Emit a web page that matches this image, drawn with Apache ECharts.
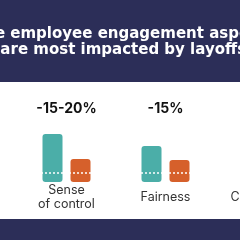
<!DOCTYPE html>
<html>
<head>
<meta charset="utf-8">
<script src="https://cdn.jsdelivr.net/npm/echarts@6/dist/echarts.min.js"></script>
<style>
  html, body { margin: 0; padding: 0; background: #fff; }
  #chart { width: 240px; height: 240px; }
</style>
</head>
<body>
<div id="chart"></div>
<script>
var categories = ['Sense\nof control', 'Fairness', 'Connection'];
var impactLabels = ['-15-20%', '-15%', '-10%'];
var before = [48, 36, 40];
var after = [23, 22, 24];
var breakAt = 9;
var titleLines = ['The employee engagement aspects', 'that are most impacted by layoffs?'];

var navy = '#2c2e58';
var myChart = echarts.init(document.getElementById('chart'));
var option = {
  backgroundColor: '#fff',
  animation: false,
  graphic: [
    { type: 'rect', shape: { x: 0, y: 0, width: 240, height: 82 }, style: { fill: navy }, z: -1 },
    { type: 'rect', shape: { x: 0, y: 219, width: 240, height: 21 }, style: { fill: navy }, z: -1 },
    { type: 'text', left: -26, top: 27, style: { text: titleLines[0], fill: '#fff', font: 'bold 15px "DejaVu Sans"' } },
    { type: 'text', left: -40, top: 43, style: { text: titleLines[1], fill: '#fff', font: 'bold 15px "DejaVu Sans"' } }
  ],
  grid: { left: 17, width: 297, top: 82, height: 100, outerBoundsMode: 'none' },
  xAxis: [
    {
      type: 'category',
      data: categories,
      axisLine: { show: false },
      axisTick: { show: false },
      axisLabel: {
        interval: 0, margin: 15, verticalAlign: 'middle', lineHeight: 14,
        color: '#333', fontSize: 12.5, fontFamily: 'Inter'
      }
    },
    {
      type: 'category',
      position: 'top',
      data: impactLabels,
      axisLine: { show: false },
      axisTick: { show: false },
      axisLabel: {
        interval: 0, inside: true, margin: 20,
        color: '#111', fontSize: 14, fontWeight: 'bold', fontFamily: 'Inter'
      }
    }
  ],
  yAxis: { type: 'value', min: 0, max: 100, show: false },
  series: [
    {
      type: 'bar', data: before, barWidth: 20, barGap: '40%',
      itemStyle: { color: '#4baea8', borderRadius: 3 },
      markLine: {
        silent: true, symbol: 'none', label: { show: false },
        lineStyle: { color: '#fff', type: [2, 2], width: 1.5 },
        data: [{ yAxis: breakAt }]
      }
    },
    {
      type: 'bar', data: after, barWidth: 20,
      itemStyle: { color: '#d6602b', borderRadius: 3 }
    }
  ]
};
myChart.setOption(option);
</script>
</body>
</html>
